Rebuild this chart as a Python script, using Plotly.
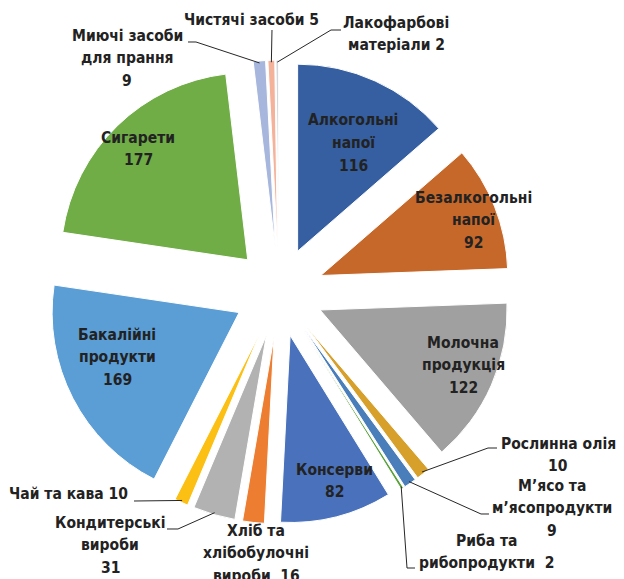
import math
import plotly.graph_objects as go

# ---- data ----
categories = [
    "Алкогольні напої", "Безалкогольні напої", "Молочна продукція",
    "Рослинна олія", "М’ясо та м’ясопродукти", "Риба та рибопродукти",
    "Консерви", "Хліб та хлібобулочні вироби", "Кондитерські вироби",
    "Чай та кава", "Бакалійні продукти", "Сигарети",
    "Миючі засоби для прання", "Чистячі засоби", "Лакофарбові матеріали",
]
values = [116, 92, 122, 10, 9, 2, 82, 16, 31, 10, 169, 177, 9, 5, 2]
colors = [
    "#355FA0", "#C6682A", "#A0A0A0", "#D6A02A", "#4A7EBB", "#5CA03C",
    "#4A72BC", "#ED7D31", "#B2B2B2", "#FCC014", "#5B9DD5", "#70AD47",
    "#A6B6DC", "#F4B29B", "#D2D7DC",
]
# how each label is wrapped; the value goes after the last separator
wrapped_names = [
    ["Алкогольні", "напої"], ["Безалкогольні", "напої"], ["Молочна", "продукція"],
    ["Рослинна олія"], ["М’ясо та", "м’ясопродукти"], ["Риба та", "рибопродукти"],
    ["Консерви"], ["Хліб та", "хлібобулочні", "вироби"], ["Кондитерські", "вироби"],
    ["Чай та кава"], ["Бакалійні", "продукти"], ["Сигарети"],
    ["Миючі засоби", "для прання"], ["Чистячі засоби"], ["Лакофарбові", "матеріали"],
]
value_on_own_line = [True, True, True, True, True, False, True, False, True,
                     False, True, True, True, False, False]
value_sep = ["", "", "", "", "", "  ", "", "  ", "", " ", "", "", "", " ", " "]

# ---- layout constants (pixels in the page; the page body has an 8px margin) ----
OFF = 8
W, H = 624 - OFF, 579 - OFF
CX, CY = 279, 292
PULL = 0.24
R = 187.0
BOX = 2 * R * (1 + PULL)
LINE_H = 22.5

# label block centres (page pixels), anchor
label_pos = [
    (353, 143, "center"), (473, 220, "center"), (463, 365, "center"),
    (558, 455, "center"), (552, 508, "center"), (486, 552, "center"),
    (334, 481, "center"), (256, 553, "center"), (110, 545, "center"),
    (130, 494, "right"), (117, 357, "center"), (138, 149, "center"),
    (127, 58, "center"), (251, 20, "center"), (396, 34, "center"),
]
# leader elbows (page pixels) for outside labels
leaders = {
    12: [(188, 42), (196, 42)],
    13: [(272, 30)],
    14: [(341, 30), (331, 30)],
    3: [(497, 448), (488, 448)],
    4: [(489, 514), (481, 514)],
    5: [(415, 568), (407, 568)],
    9: [(134, 501)],
    8: [(167, 529), (178, 529)],
}


def px(x):
    return (x - OFF) / W


def py(y):
    return 1 - (y - OFF) / H


fig = go.Figure()
fig.add_trace(go.Pie(
    labels=categories,
    values=values,
    sort=False,
    direction="clockwise",
    rotation=0,
    pull=[PULL] * len(values),
    marker=dict(colors=colors, line=dict(color="white", width=1)),
    textinfo="none",
    hoverinfo="label+value",
    showlegend=False,
    domain=dict(x=[px(CX - BOX / 2), px(CX + BOX / 2)],
                y=[py(CY + BOX / 2), py(CY - BOX / 2)]),
))

font = dict(family="DejaVu Sans Condensed, Arial Narrow, sans-serif",
            size=15.5, color="#222222")

annotations = []
for i, (name, own, sep, v) in enumerate(zip(wrapped_names, value_on_own_line,
                                             value_sep, values)):
    lines = list(name)
    if own:
        lines.append(str(v))
    else:
        lines[-1] = lines[-1] + sep + str(v)
    x, y, anc = label_pos[i]
    n = len(lines)
    for k, ln in enumerate(lines):
        ly = y + (k - (n - 1) / 2) * LINE_H
        annotations.append(dict(
            x=px(x), y=py(ly), xref="paper", yref="paper",
            text=f"<b>{ln}</b>", showarrow=False,
            xanchor=anc, yanchor="middle", align="center", font=font,
        ))

# anchor points on slice outer edges, computed from the data
total = sum(values)
cum = 0
mids = []
for v in values:
    mids.append((cum + v / 2) / total * 2 * math.pi)
    cum += v

shapes = []
for i, pts in leaders.items():
    a = mids[i]
    rr = R * (1 + PULL) - 2
    ax, ay = CX + rr * math.sin(a), CY - rr * math.cos(a)
    allp = pts + [(ax, ay)]
    path = "M " + " L ".join(f"{px(x):.5f},{py(y):.5f}" for x, y in allp)
    shapes.append(dict(type="path", path=path, xref="paper", yref="paper",
                       line=dict(color="#262626", width=1)))

fig.update_layout(
    width=W, height=H,
    margin=dict(l=0, r=0, t=0, b=0),
    paper_bgcolor="white", plot_bgcolor="white",
    annotations=annotations, shapes=shapes,
)
fig.write_html("out.html")
